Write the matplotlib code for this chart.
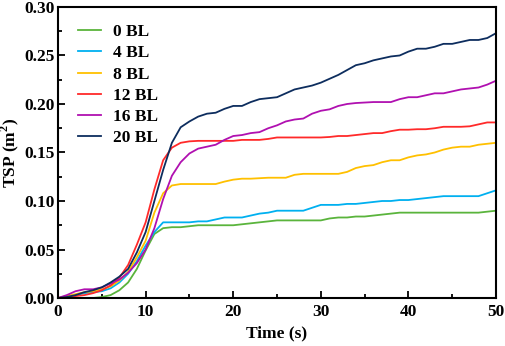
import matplotlib
matplotlib.use("Agg")
import matplotlib.pyplot as plt
from matplotlib.ticker import MultipleLocator, FormatStrFormatter

time_s = list(range(0, 51))

bl0 = [0, 0, 0, 0, 0, 0.001, 0.003, 0.008, 0.016, 0.030, 0.049, 0.066, 0.072, 0.073, 0.073,
       0.074, 0.075, 0.075, 0.075, 0.075, 0.075, 0.076, 0.077, 0.078, 0.079, 0.080, 0.080,
       0.080, 0.080, 0.080, 0.080, 0.082, 0.083, 0.083, 0.084, 0.084, 0.085, 0.086, 0.087,
       0.088, 0.088, 0.088, 0.088, 0.088, 0.088, 0.088, 0.088, 0.088, 0.088, 0.089, 0.090]
bl4 = [0, 0.001, 0.003, 0.005, 0.006, 0.007, 0.010, 0.016, 0.025, 0.038, 0.054, 0.068, 0.078,
       0.078, 0.078, 0.078, 0.079, 0.079, 0.081, 0.083, 0.083, 0.083, 0.085, 0.087, 0.088,
       0.090, 0.090, 0.090, 0.090, 0.093, 0.096, 0.096, 0.096, 0.097, 0.097, 0.098, 0.099,
       0.100, 0.100, 0.101, 0.101, 0.102, 0.103, 0.104, 0.105, 0.105, 0.105, 0.105, 0.105,
       0.108, 0.111]
bl8 = [0, 0.002, 0.004, 0.006, 0.007, 0.009, 0.012, 0.018, 0.027, 0.042, 0.059, 0.088, 0.108,
       0.116, 0.1175, 0.1175, 0.1175, 0.1175, 0.1175, 0.120, 0.122, 0.123, 0.123, 0.1235,
       0.124, 0.124, 0.124, 0.127, 0.128, 0.128, 0.128, 0.128, 0.128, 0.130, 0.134, 0.136,
       0.137, 0.140, 0.142, 0.142, 0.145, 0.147, 0.148, 0.150, 0.153, 0.155, 0.156, 0.156,
       0.158, 0.159, 0.160]
bl12 = [0, 0.001, 0.002, 0.003, 0.005, 0.008, 0.013, 0.021, 0.034, 0.055, 0.078, 0.112, 0.142,
        0.155, 0.160, 0.1615, 0.162, 0.162, 0.162, 0.162, 0.162, 0.163, 0.163, 0.163, 0.164,
        0.1655, 0.1655, 0.1655, 0.1655, 0.1655, 0.1655, 0.166, 0.167, 0.167, 0.168, 0.169,
        0.170, 0.170, 0.172, 0.1735, 0.1735, 0.174, 0.174, 0.175, 0.1765, 0.1765, 0.1765,
        0.177, 0.179, 0.181, 0.181]
bl16 = [0, 0.003, 0.007, 0.009, 0.009, 0.011, 0.015, 0.019, 0.026, 0.036, 0.050, 0.072, 0.102,
        0.126, 0.140, 0.149, 0.154, 0.156, 0.158, 0.163, 0.167, 0.168, 0.170, 0.171, 0.175,
        0.178, 0.182, 0.184, 0.185, 0.190, 0.193, 0.1945, 0.198, 0.200, 0.201, 0.2015, 0.202,
        0.202, 0.202, 0.205, 0.207, 0.207, 0.209, 0.211, 0.211, 0.213, 0.215, 0.216, 0.217,
        0.220, 0.224]
bl20 = [0, 0.001, 0.003, 0.006, 0.008, 0.011, 0.016, 0.022, 0.030, 0.047, 0.068, 0.100, 0.132,
        0.160, 0.176, 0.182, 0.187, 0.190, 0.191, 0.195, 0.198, 0.198, 0.202, 0.205, 0.206,
        0.207, 0.211, 0.215, 0.217, 0.219, 0.222, 0.226, 0.230, 0.235, 0.240, 0.242, 0.245,
        0.247, 0.249, 0.250, 0.254, 0.257, 0.257, 0.259, 0.262, 0.262, 0.264, 0.266, 0.266,
        0.268, 0.273]

labels = ["0 BL", "4 BL", "8 BL", "12 BL", "16 BL", "20 BL"]
series = [bl0, bl4, bl8, bl12, bl16, bl20]
colors = ["#5AB43C", "#00B0F0", "#FFC000", "#FF2A2A", "#B010B0", "#0D2D5E"]

plt.rcParams["font.family"] = ["Liberation Serif", "DejaVu Serif"]
plt.rcParams["font.weight"] = "bold"
plt.rcParams["mathtext.fontset"] = "custom"
plt.rcParams["mathtext.bf"] = "Liberation Serif:bold"
plt.rcParams["mathtext.rm"] = "Liberation Serif:bold"

FS = 12.5

fig = plt.figure(figsize=(5.05, 3.46), dpi=100)
ax = fig.add_axes([0.1149, 0.1387, 0.8673, 0.8411])

for lab, y, c in zip(labels, series, colors):
    ax.plot(time_s, y, color=c, lw=1.3, label=lab)

ax.set_xlim(0, 50)
ax.set_ylim(0, 0.30)
ax.xaxis.set_major_locator(MultipleLocator(10))
ax.xaxis.set_minor_locator(MultipleLocator(5))
ax.yaxis.set_major_locator(MultipleLocator(0.05))
ax.yaxis.set_minor_locator(MultipleLocator(0.025))
ax.yaxis.set_major_formatter(FormatStrFormatter("%.2f"))

ax.tick_params(which="both", direction="in", top=False, right=False, width=1.3,
               labelsize=FS)
ax.tick_params(which="major", length=5)
ax.tick_params(which="minor", length=3)
ax.tick_params(axis="y", pad=2.5)
ax.tick_params(axis="x", pad=4)
for lbl in ax.get_xticklabels() + ax.get_yticklabels():
    lbl.set_fontweight("bold")
for s in ax.spines.values():
    s.set_linewidth(1.5)

ax.set_xlabel("Time (s)", fontsize=FS, fontweight="bold", labelpad=4)
ax.set_ylabel("TSP (m$^{\\mathbf{2}}$)", fontsize=FS, fontweight="bold", labelpad=2)

leg = ax.legend(loc="upper left", frameon=False, prop={"weight": "bold", "size": FS},
                handlelength=1.3, handletextpad=0.7, labelspacing=0.29,
                bbox_to_anchor=(0.01, 0.995))

fig.savefig("out.png", dpi=100)
